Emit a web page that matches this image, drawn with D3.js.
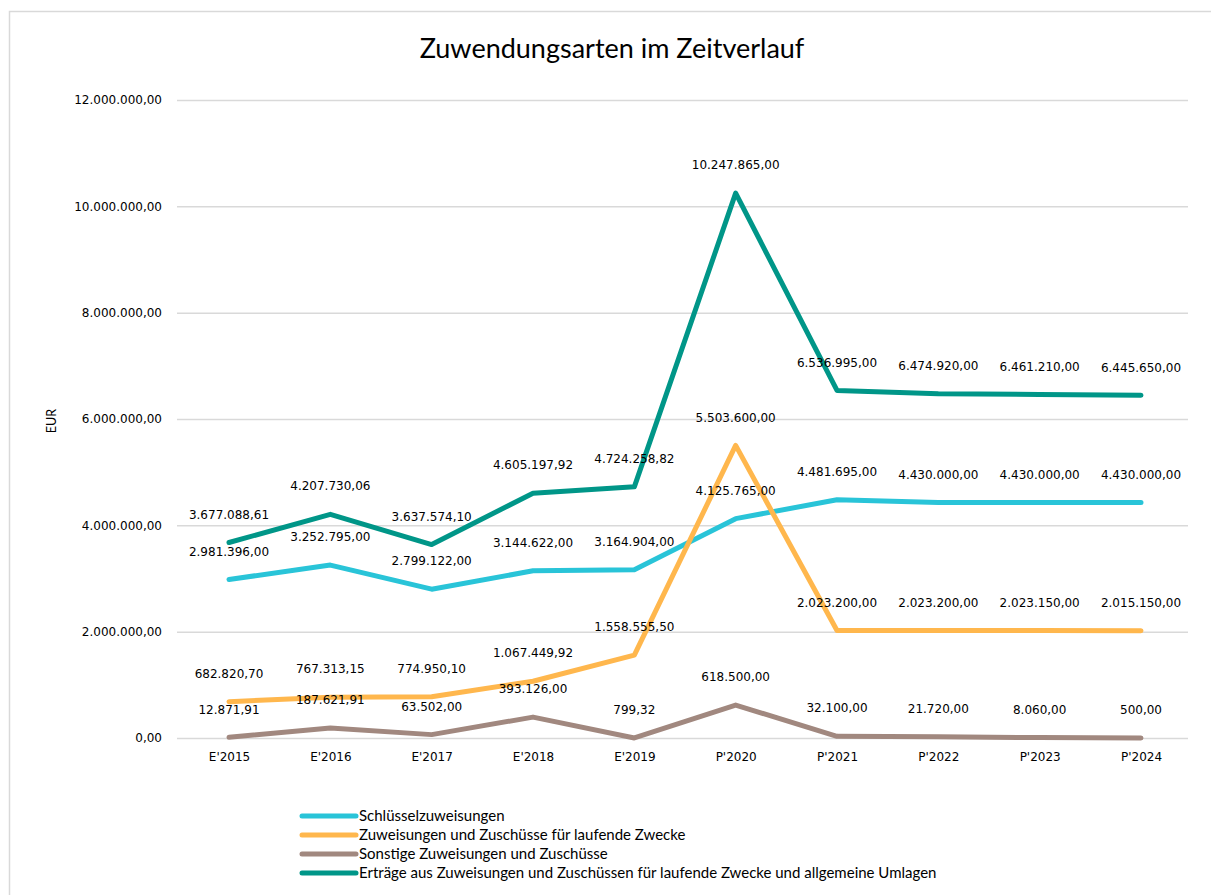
<!DOCTYPE html>
<html>
<head>
<meta charset="utf-8">
<script src="https://cdn.jsdelivr.net/npm/d3@7"></script>
<style>
    body { margin: 0; background: #fff; }
    svg { display: block; }
</style>
</head>
<body>
<script>
// Data
var categories = ["E'2015", "E'2016", "E'2017", "E'2018", "E'2019", "P'2020", "P'2021", "P'2022", "P'2023", "P'2024"];

var seriesNames = [
    "Schlüsselzuweisungen",
    "Zuweisungen und Zuschüsse für laufende Zwecke",
    "Sonstige Zuweisungen und Zuschüsse",
    "Erträge aus Zuweisungen und Zuschüssen für laufende Zwecke und allgemeine Umlagen"
];
var schluessel = [2981396.00, 3252795.00, 2799122.00, 3144622.00, 3164904.00, 4125765.00, 4481695.00, 4430000.00, 4430000.00, 4430000.00];
var laufend = [682820.70, 767313.15, 774950.10, 1067449.92, 1558555.50, 5503600.00, 2023200.00, 2023200.00, 2023150.00, 2015150.00];
var sonstige = [12871.91, 187621.91, 63502.00, 393126.00, 799.32, 618500.00, 32100.00, 21720.00, 8060.00, 500.00];
var ertraege = [3677088.61, 4207730.06, 3637574.10, 4605197.92, 4724258.82, 10247865.00, 6536995.00, 6474920.00, 6461210.00, 6445650.00];
var yTicks = [0, 2000000, 4000000, 6000000, 8000000, 10000000, 12000000];
var colors = ["#29c4d8", "#ffb74d", "#a1887f", "#009688"];

var series = [schluessel, laufend, sonstige, ertraege];

// German number format: 1.234.567,89
var de = d3.formatLocale({decimal: ",", thousands: ".", grouping: [3], currency: ["", " €"]});
var fmt = de.format(",.2f");

var width = 1211, height = 895;
var numFont = "DejaVu Sans, sans-serif";
var numSize = "12px";
var textFont = "Lato, Open Sans, sans-serif";

var svg = d3.select("body")
    .append("svg")
    .attr("width", width)
    .attr("height", height);

// chart frame (only left and top edges fall inside the picture)
svg.append("rect")
    .attr("x", 9.5).attr("y", 11.5)
    .attr("width", 1400).attr("height", 1000)
    .attr("fill", "none")
    .attr("stroke", "#d9d9d9")
    .attr("stroke-width", 1.5);

svg.append("text")
    .attr("x", 612).attr("y", 58)
    .attr("text-anchor", "middle")
    .attr("font-family", textFont)
    .attr("font-size", "27px")
    .attr("fill", "#000")
    .text("Zuwendungsarten im Zeitverlauf");

var x = d3.scalePoint()
    .domain(categories)
    .range([229, 1141]);

var y = d3.scaleLinear()
    .domain([0, 12000000])
    .range([738, 100]);

// gridlines + y labels
var yAxis = d3.axisLeft(y)
    .tickValues(yTicks)
    .tickSize(-(1188 - 177))
    .tickPadding(15)
    .tickFormat(function(d) { return fmt(d); });

var gy = svg.append("g")
    .attr("transform", "translate(177,0)")
    .call(yAxis);
gy.select(".domain").remove();
gy.selectAll(".tick line").attr("stroke", "#d9d9d9").attr("stroke-width", 1.5);
gy.selectAll(".tick text")
    .attr("font-family", numFont)
    .attr("font-size", numSize)
    .attr("fill", "#000");

// x labels
var xAxis = d3.axisBottom(x).tickSize(0).tickPadding(14);
var gx = svg.append("g")
    .attr("transform", "translate(0,738)")
    .call(xAxis);
gx.select(".domain").remove();
gx.selectAll(".tick text")
    .attr("font-family", numFont)
    .attr("font-size", numSize)
    .attr("fill", "#000");

// axis title
svg.append("text")
    .attr("transform", "translate(56,421) rotate(-90)")
    .attr("text-anchor", "middle")
    .attr("font-family", textFont)
    .attr("font-size", "12.5px")
    .attr("fill", "#000")
    .text("EUR");

var line = d3.line()
    .x(function(d, i) { return x(categories[i]); })
    .y(function(d) { return y(d); });

series.forEach(function(values, s) {
    svg.append("path")
        .datum(values)
        .attr("d", line)
        .attr("fill", "none")
        .attr("stroke", colors[s])
        .attr("stroke-width", 5)
        .attr("stroke-linejoin", "round")
        .attr("stroke-linecap", "round");
});

// data labels, above each point
series.forEach(function(values, s) {
    svg.append("g")
        .selectAll("text")
        .data(values)
        .enter()
        .append("text")
        .attr("x", function(d, i) { return x(categories[i]); })
        .attr("y", function(d) { return y(d) - 28; })
        .attr("dy", "0.35em")
        .attr("text-anchor", "middle")
        .attr("font-family", numFont)
        .attr("font-size", numSize)
        .attr("fill", "#000")
        .text(function(d) { return fmt(d); });
});

// legend
var legend = svg.append("g")
    .selectAll("g")
    .data(seriesNames)
    .enter()
    .append("g")
    .attr("transform", function(d, i) { return "translate(302," + (816 + i * 19) + ")"; });

legend.append("line")
    .attr("x1", 0).attr("x2", 54)
    .attr("stroke", function(d, i) { return colors[i]; })
    .attr("stroke-width", 5)
    .attr("stroke-linecap", "round");

legend.append("text")
    .attr("x", 57)
    .attr("dy", "0.35em")
    .attr("font-family", textFont)
    .attr("font-size", "15px")
    .attr("fill", "#000")
    .text(function(d) { return d; });
</script>
</body>
</html>
